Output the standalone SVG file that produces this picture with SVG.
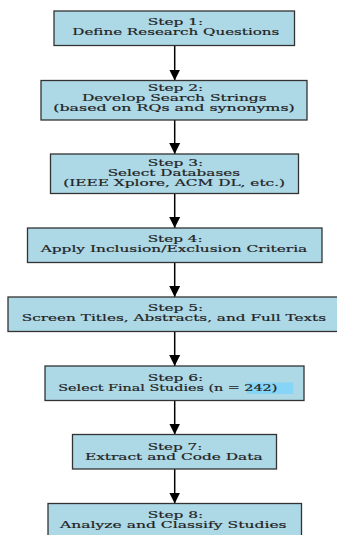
<svg xmlns="http://www.w3.org/2000/svg" width="337" height="535" viewBox="0 0 337 535">
<defs>
<style>
.box{fill:#ADD8E6;stroke:#333;stroke-width:1.3}
.t{font-family:"DejaVu Serif","Liberation Serif",serif;font-size:10px;fill:#222;stroke:#222;stroke-width:0.2;text-anchor:middle}
.edge{stroke:#000;stroke-width:1.5;fill:none;marker-end:url(#ah)}
.hl{fill:#86D4F6}
</style>
<marker id="ah" markerUnits="userSpaceOnUse" markerWidth="12" markerHeight="12" viewBox="0 0 12 12" refX="11" refY="6" orient="auto">
<path d="M0,0.5 L11,6 L0,11.5 Z" fill="#000"/>
</marker>
</defs>
<rect width="337" height="535" fill="#fff"/>
<g id="connectors">
<line class="edge" x1="174.7" y1="45.7" x2="174.7" y2="80.5"/>
<line class="edge" x1="174.7" y1="120" x2="174.7" y2="154"/>
<line class="edge" x1="174.7" y1="193.5" x2="174.7" y2="228"/>
<line class="edge" x1="174.7" y1="262.5" x2="174.7" y2="297"/>
<line class="edge" x1="174.7" y1="331.5" x2="174.7" y2="366"/>
<line class="edge" x1="174.7" y1="400.5" x2="174.7" y2="434.5"/>
<line class="edge" x1="174.7" y1="469" x2="174.7" y2="503.5"/>
</g>
<g id="step1">
<rect class="box" x="54" y="11" width="240.5" height="34.5"/>
<text class="t" x="175.5" y="25.4" textLength="55.6" lengthAdjust="spacingAndGlyphs">Step 1:</text>
<text class="t" x="175.8" y="35.4" textLength="207" lengthAdjust="spacingAndGlyphs">Define Research Questions</text>
</g>
<g id="step2">
<rect class="box" x="41" y="80.5" width="266" height="39.5"/>
<text class="t" x="175.5" y="91.2" textLength="55.6" lengthAdjust="spacingAndGlyphs">Step 2:</text>
<text class="t" x="174.3" y="101.2" textLength="184.7" lengthAdjust="spacingAndGlyphs">Develop Search Strings</text>
<text class="t" x="174" y="111.2" textLength="241.4" lengthAdjust="spacingAndGlyphs">(based on RQs and synonyms)</text>
</g>
<g id="step3">
<rect class="box" x="50.5" y="154" width="248" height="39.5"/>
<text class="t" x="175.5" y="165.5" textLength="55.6" lengthAdjust="spacingAndGlyphs">Step 3:</text>
<text class="t" x="173.8" y="175.5" textLength="132.3" lengthAdjust="spacingAndGlyphs">Select Databases</text>
<text class="t" x="174.2" y="185.5" textLength="221.7" lengthAdjust="spacingAndGlyphs">(IEEE Xplore, ACM DL, etc.)</text>
</g>
<g id="step4">
<rect class="box" x="27.5" y="228" width="294.5" height="34.5"/>
<text class="t" x="175.2" y="242.2" textLength="55" lengthAdjust="spacingAndGlyphs">Step 4:</text>
<text class="t" x="174" y="252.2" textLength="266.6" lengthAdjust="spacingAndGlyphs">Apply Inclusion/Exclusion Criteria</text>
</g>
<g id="step5">
<rect class="box" x="8" y="297" width="330" height="34.5"/>
<text class="t" x="175.5" y="311.2" textLength="55.6" lengthAdjust="spacingAndGlyphs">Step 5:</text>
<text class="t" x="173.9" y="321.2" textLength="304.3" lengthAdjust="spacingAndGlyphs">Screen Titles, Abstracts, and Full Texts</text>
</g>
<g id="step6">
<rect class="box" x="45" y="366" width="259" height="34.5"/>
<rect class="hl" x="247" y="382.5" width="46.3" height="11.5"/>
<text class="t" x="175.5" y="380.5" textLength="55.6" lengthAdjust="spacingAndGlyphs">Step 6:</text>
<text class="t" x="167.8" y="390.5" textLength="219" lengthAdjust="spacingAndGlyphs">Select Final Studies (n = 242)</text>
</g>
<g id="step7">
<rect class="box" x="72.5" y="434.5" width="204" height="34.5"/>
<text class="t" x="175" y="449.5" textLength="54.7" lengthAdjust="spacingAndGlyphs">Step 7:</text>
<text class="t" x="173.8" y="459.5" textLength="177.7" lengthAdjust="spacingAndGlyphs">Extract and Code Data</text>
</g>
<g id="step8">
<rect class="box" x="48" y="503.5" width="253.5" height="36"/>
<text class="t" x="175.5" y="517.8" textLength="55.6" lengthAdjust="spacingAndGlyphs">Step 8:</text>
<text class="t" x="173.3" y="527.8" textLength="226.7" lengthAdjust="spacingAndGlyphs">Analyze and Classify Studies</text>
</g>
</svg>
